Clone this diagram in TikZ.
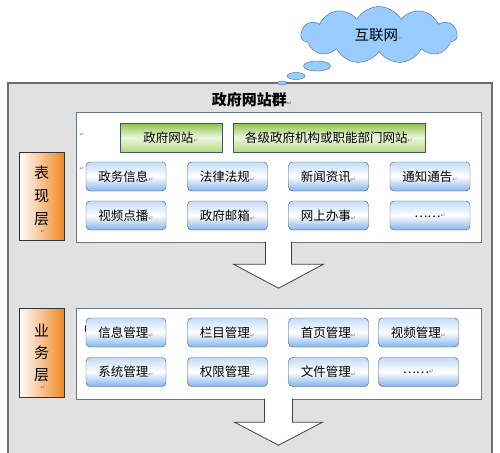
\documentclass[tikz,border=0pt]{standalone}
\usepackage{fontspec}
\setmainfont{Noto Sans CJK SC}
\newfontfamily\symfont{DejaVu Sans}
\usetikzlibrary{shapes.symbols, shapes.geometric, calc}

\definecolor{groupgray}{RGB}{225,225,225}
\definecolor{groupline}{RGB}{110,110,110}
\definecolor{bluetop}{RGB}{195,220,247}
\definecolor{bluebot}{RGB}{130,180,235}
\definecolor{blueline}{RGB}{70,85,100}
\definecolor{greentop}{RGB}{140,195,70}
\definecolor{greenmid}{RGB}{238,246,224}
\definecolor{greenbot}{RGB}{180,218,125}
\definecolor{labelorange}{RGB}{240,135,35}
\definecolor{cloudblue}{RGB}{153,204,255}
\definecolor{cloudline}{RGB}{70,100,140}

% paragraph mark as left in the picture
\newcommand{\pmark}{{\symfont\fontsize{6}{6}\selectfont\textcolor{gray}{↵}}}

\begin{document}
\begin{tikzpicture}[x=1pt, y=-1pt]

    % Define styles
    \tikzstyle{panel} = [draw=blueline!80, fill=white, minimum width=405pt]
    \tikzstyle{bluebox} = [draw=blueline, rounded corners=4pt, top color=bluetop, bottom color=bluebot, middle color=white, minimum width=80pt, minimum height=29pt, inner sep=0pt, font=\fontsize{12.5}{14}\selectfont]
    \tikzstyle{greenbox} = [draw=blueline, top color=greentop, bottom color=greenbot, middle color=greenmid, minimum height=29pt, inner sep=0pt, font=\fontsize{12.5}{14}\selectfont]
    \tikzstyle{layerlabel} = [draw=black!80, left color=white, right color=labelorange, minimum width=45pt, inner sep=0pt, align=center]
    \tikzstyle{bubble} = [draw=cloudline, fill=cloudblue, ellipse, inner sep=0pt]
    \tikzstyle{bigarrow} = [draw=black!75, fill=white, line width=0.8pt]

    \useasboundingbox (0,0) rectangle (500,452);
    \clip (0,0) rectangle (500,452);

    % Cloud and its bubbles
    \node[cloud, cloud puffs=11, cloud puff arc=120, aspect=2.7, draw=cloudline, fill=cloudblue,
          minimum width=156pt, minimum height=57pt, inner sep=0pt, font=\fontsize{14.5}{16}\selectfont] (internet) at (379,35) {互联网\pmark};
    \node[bubble, minimum width=27pt, minimum height=10pt] (bubble1) at (317,66) {};
    \node[bubble, minimum width=18pt, minimum height=7pt] (bubble2) at (296,76) {};

    % Outer group
    \draw[groupline, fill=groupgray, line width=1.5pt] (8,83) rectangle (492,470);
    \node[bubble, minimum width=9pt, minimum height=4pt] (bubble3) at (282,83) {};
    \node[font=\fontsize{15}{17}\selectfont\bfseries] (title) at (252,100) {政府网站群\pmark};

    % Presentation layer
    \node[panel, minimum height=130pt] (panel1) at (278.5,177) {};
    \node[layerlabel, minimum height=88pt, font=\fontsize{15}{23}\selectfont] (layer1) at (41.5,196) {表\\现\\层};
    \node (mark1) at (43,232) {\pmark};
    \node (mark2) at (82,135) {\pmark};
    \node (mark3) at (82,169) {\pmark};

    \node[greenbox, minimum width=102pt] (gov) at (171,137.5) {政府网站\pmark};
    \node[greenbox, minimum width=192pt] (dept) at (329,137.5) {各级政府机构或职能部门网站\pmark};

    \node[bluebox] (affairs) at (126,176.5) {政务信息\pmark};
    \node[bluebox] (laws) at (227.5,176.5) {法律法规\pmark};
    \node[bluebox] (news) at (328.5,176.5) {新闻资讯\pmark};
    \node[bluebox] (notice) at (430,176.5) {通知通告\pmark};
    \node[bluebox] (video) at (126,215.5) {视频点播\pmark};
    \node[bluebox] (mail) at (227.5,215.5) {政府邮箱\pmark};
    \node[bluebox] (online) at (328.5,215.5) {网上办事\pmark};
    \node[bluebox] (more1) at (430,215.5) {……\pmark};

    % Arrow down to business layer
    \draw[bigarrow] ($(panel1.south)+(-13,-0.5)$) -- ++(0,22.5) -- ++(-32,0)
        -- ($(panel1.south)+(0,46)$) -- ($(panel1.south)+(45,22)$) -- ++(-32,0) -- ++(0,-22.5);

    % Business layer
    \node[panel, minimum height=91pt] (panel2) at (278.5,353.5) {};
    \node[layerlabel, minimum height=89pt, font=\fontsize{15}{22}\selectfont] (layer2) at (41.5,352.5) {业\\务\\层};
    \node (mark4) at (43,388) {\pmark};
    \node[font=\fontsize{12.5}{14}\selectfont] (hidden) at (90,330) {中};

    \node[bluebox] (info) at (126,332.5) {信息管理\pmark};
    \node[bluebox] (column) at (227.5,332.5) {栏目管理\pmark};
    \node[bluebox] (home) at (328.5,332.5) {首页管理\pmark};
    \node[bluebox] (vidman) at (418.5,332.5) {视频管理\pmark};
    \node[bluebox] (system) at (126,372) {系统管理\pmark};
    \node[bluebox] (rights) at (227.5,372) {权限管理\pmark};
    \node[bluebox] (files) at (328.5,372) {文件管理\pmark};
    \node[bluebox] (more2) at (418.5,372) {……\pmark};

    % Arrow out of business layer
    \draw[bigarrow] ($(panel2.south)+(-14,-0.5)$) -- ++(0,23.5) -- ++(-30,0)
        -- ($(panel2.south)+(0,46)$) -- ($(panel2.south)+(44,23)$) -- ++(-30,0) -- ++(0,-23.5);

\end{tikzpicture}
\end{document}
